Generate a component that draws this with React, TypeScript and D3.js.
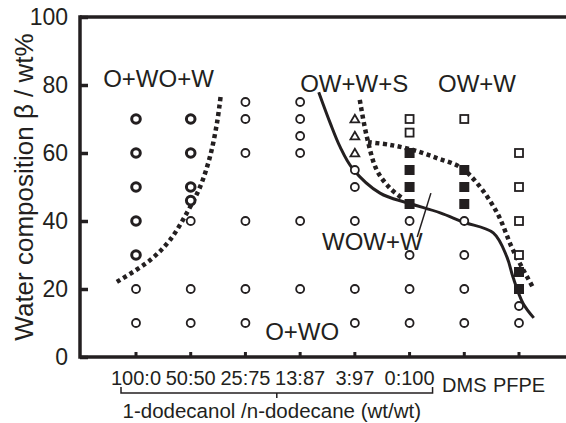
import React, { useEffect, useRef } from 'react';
import * as d3 from 'd3';

// x categories (oil phase)
const categories = ['100:0', '50:50', '25:75', '13:87', '3:97', '0:100', 'DMS', 'PFPE'];
const yTicks = [0, 20, 40, 60, 80, 100];

// observed points, [category, water wt%]
const boldCircles: [string, number][] = [
  ['100:0', 70], ['100:0', 60], ['100:0', 50], ['100:0', 40], ['100:0', 30],
  ['50:50', 70], ['50:50', 60], ['50:50', 50], ['50:50', 46],
];
const openCircles: [string, number][] = [
  ['100:0', 20], ['100:0', 10],
  ['50:50', 40], ['50:50', 20], ['50:50', 10],
  ['25:75', 75], ['25:75', 70], ['25:75', 60], ['25:75', 40], ['25:75', 20], ['25:75', 10],
  ['13:87', 75], ['13:87', 70], ['13:87', 65], ['13:87', 60], ['13:87', 40], ['13:87', 20],
  ['3:97', 55], ['3:97', 50], ['3:97', 40], ['3:97', 20], ['3:97', 10],
  ['0:100', 40], ['0:100', 30], ['0:100', 20], ['0:100', 10],
  ['DMS', 40], ['DMS', 30], ['DMS', 20], ['DMS', 10],
  ['PFPE', 15], ['PFPE', 10],
];
const triangles: [string, number][] = [['3:97', 70], ['3:97', 65], ['3:97', 60]];
const openSquares: [string, number][] = [
  ['0:100', 70], ['0:100', 66], ['DMS', 70],
  ['PFPE', 60], ['PFPE', 50], ['PFPE', 40], ['PFPE', 30],
];
const filledSquares: [string, number][] = [
  ['0:100', 60], ['0:100', 55], ['0:100', 50], ['0:100', 45],
  ['DMS', 55], ['DMS', 50], ['DMS', 45],
  ['PFPE', 25], ['PFPE', 20],
];

// phase boundaries, [category index, water wt%]
const solidBoundary: [number, number][] = [
  [3.34, 77.9], [3.55, 68.8], [3.73, 61.8], [3.95, 55.6], [4.46, 48.2], [4.97, 45.3],
  [5.56, 42.4], [5.98, 39.7], [6.53, 36.5], [6.78, 29.4], [6.89, 23.5], [7.07, 15.9], [7.27, 11.5],
];
const dottedLeft: [number, number][] = [
  [-0.35, 22.1], [0.26, 28.5], [0.62, 34.4], [0.93, 42.4], [1.17, 50], [1.35, 58.8], [1.48, 68.8], [1.55, 77.1],
];
const dottedMiddle: [number, number][] = [
  [4.09, 75.6], [4.22, 64.7], [4.4, 55], [4.64, 49.7], [4.86, 46.8],
];
const dottedRight: [number, number][] = [
  [4.24, 63.2], [4.64, 62.4], [5.06, 60.9], [5.5, 58.5], [5.92, 55.9], [6.23, 51.2],
  [6.6, 42.4], [6.89, 31.5], [7.26, 20.3],
];
const pointerLine: [number, number][] = [[5.14, 35.3], [5.39, 48.2]];

// region labels, [text, category index, water wt%]
const regionLabels: [string, number, number][] = [
  ['O+WO+W', -0.6, 79.4],
  ['OW+W+S', 3.0, 77.9],
  ['OW+W', 5.52, 77.9],
  ['WOW+W', 3.4, 31.5],
  ['O+WO', 2.36, 5],
];

const INK = '#231f20';
const FONT = "Arial, 'Liberation Sans', sans-serif";

function App() {
  const ref = useRef<SVGSVGElement>(null);
  const width = 566;
  const height = 423;

  useEffect(() => {
    const svg = d3.select(ref.current);
    svg.selectAll('*').remove();

    const margin = { top: 17, right: 0, bottom: 66, left: 80 };
    const x0 = margin.left;
    const x1 = width - margin.right;
    const y0 = height - margin.bottom;

    const y = d3.scaleLinear().domain([0, 100]).range([y0, margin.top]);
    const x = d3.scalePoint<string>().domain(categories).range([136, 519]);
    const xi = d3.scaleLinear().domain([0, categories.length - 1]).range([136, 519]);

    const g = svg.append('g');

    // y axis ticks + labels
    const yAxis = g.append('g')
      .attr('transform', `translate(${x0},0)`)
      .call(d3.axisLeft(y).tickValues(yTicks).tickSizeInner(-8).tickSizeOuter(0).tickPadding(12));
    yAxis.select('.domain').remove();
    yAxis.selectAll('line').attr('stroke', INK).attr('stroke-width', 3.5);
    yAxis.selectAll('text')
      .attr('fill', INK)
      .style('font-family', FONT)
      .style('font-size', '23px');

    // frame
    g.append('line').attr('x1', x0).attr('x2', x0).attr('y1', margin.top - 1.75).attr('y2', y0 + 1.75)
      .attr('stroke', INK).attr('stroke-width', 3.5);
    g.append('line').attr('x1', x0).attr('x2', x1).attr('y1', margin.top).attr('y2', margin.top)
      .attr('stroke', INK).attr('stroke-width', 3.5);
    g.append('line').attr('x1', x0).attr('x2', x1).attr('y1', y0).attr('y2', y0)
      .attr('stroke', INK).attr('stroke-width', 3.5);

    // small x ticks
    g.selectAll('.xtick').data(categories).enter().append('line')
      .attr('x1', d => x(d)!).attr('x2', d => x(d)!)
      .attr('y1', y0).attr('y2', y0 - 5)
      .attr('stroke', INK).attr('stroke-width', 3);

    // category labels
    g.selectAll('.xlab').data(categories).enter().append('text')
      .attr('x', d => x(d)!)
      .attr('y', (d, i) => (i < 6 ? 385 : 392))
      .attr('text-anchor', 'middle')
      .attr('fill', INK)
      .style('font-family', FONT)
      .style('font-size', '20px')
      .text(d => d);

    // brace under the alcohol/alkane ratios
    const bl = x('100:0')! - 15;
    const br = x('0:100')! + 23;
    const bm = (bl + br) / 2;
    g.append('path')
      .attr('d', `M${bl},387 L${bl},393 L${br},393 L${br},387 M${bm},393 L${bm},398`)
      .attr('fill', 'none').attr('stroke', INK).attr('stroke-width', 1.5);
    g.append('text')
      .attr('x', bm - 5).attr('y', 418)
      .attr('text-anchor', 'middle')
      .attr('fill', INK)
      .style('font-family', FONT)
      .style('font-size', '20.5px')
      .text('1-dodecanol /n-dodecane (wt/wt)');

    // y title
    g.append('text')
      .attr('transform', `translate(33,${(margin.top + y0) / 2}) rotate(-90)`)
      .attr('text-anchor', 'middle')
      .attr('fill', INK)
      .style('font-family', FONT)
      .style('font-size', '26px')
      .text('Water composition β / wt%');

    // boundaries
    const line = d3.line<[number, number]>()
      .x(d => xi(d[0]))
      .y(d => y(d[1]))
      .curve(d3.curveCatmullRom.alpha(0.5));

    g.append('path').attr('d', line(solidBoundary)!)
      .attr('fill', 'none').attr('stroke', INK).attr('stroke-width', 3);
    [dottedLeft, dottedMiddle, dottedRight].forEach(pts => {
      g.append('path').attr('d', line(pts)!)
        .attr('fill', 'none').attr('stroke', INK).attr('stroke-width', 4.5)
        .attr('stroke-dasharray', '4 3.5');
    });
    g.append('path').attr('d', d3.line<[number, number]>().x(d => xi(d[0])).y(d => y(d[1]))(pointerLine)!)
      .attr('fill', 'none').attr('stroke', INK).attr('stroke-width', 1.5);

    // markers
    g.selectAll('.oc').data(openCircles).enter().append('circle')
      .attr('cx', d => x(d[0])!).attr('cy', d => y(d[1]))
      .attr('r', 4).attr('fill', 'white').attr('stroke', INK).attr('stroke-width', 1.8);
    g.selectAll('.bc').data(boldCircles).enter().append('circle')
      .attr('cx', d => x(d[0])!).attr('cy', d => y(d[1]))
      .attr('r', 4.3).attr('fill', 'white').attr('stroke', INK).attr('stroke-width', 3);
    g.selectAll('.tri').data(triangles).enter().append('path')
      .attr('d', d3.symbol(d3.symbolTriangle, 34)()!)
      .attr('transform', d => `translate(${x(d[0])},${y(d[1]) + 0.8})`)
      .attr('fill', 'white').attr('stroke', INK).attr('stroke-width', 1.8);
    g.selectAll('.osq').data(openSquares).enter().append('rect')
      .attr('x', d => x(d[0])! - 4).attr('y', d => y(d[1]) - 4)
      .attr('width', 8).attr('height', 8)
      .attr('fill', 'white').attr('stroke', INK).attr('stroke-width', 1.8);
    g.selectAll('.fsq').data(filledSquares).enter().append('rect')
      .attr('x', d => x(d[0])! - 5).attr('y', d => y(d[1]) - 5)
      .attr('width', 10).attr('height', 10)
      .attr('fill', INK);

    // region labels
    g.selectAll('.rl').data(regionLabels).enter().append('text')
      .attr('x', d => xi(d[1])).attr('y', d => y(d[2]))
      .attr('fill', INK)
      .style('font-family', FONT)
      .style('font-size', '24px')
      .text(d => d[0]);
  }, []);

  return (
    <svg ref={ref} width={width} height={height}
      style={{ position: 'absolute', left: 0, top: 0, background: 'white' }} />
  );
}

export default App;
